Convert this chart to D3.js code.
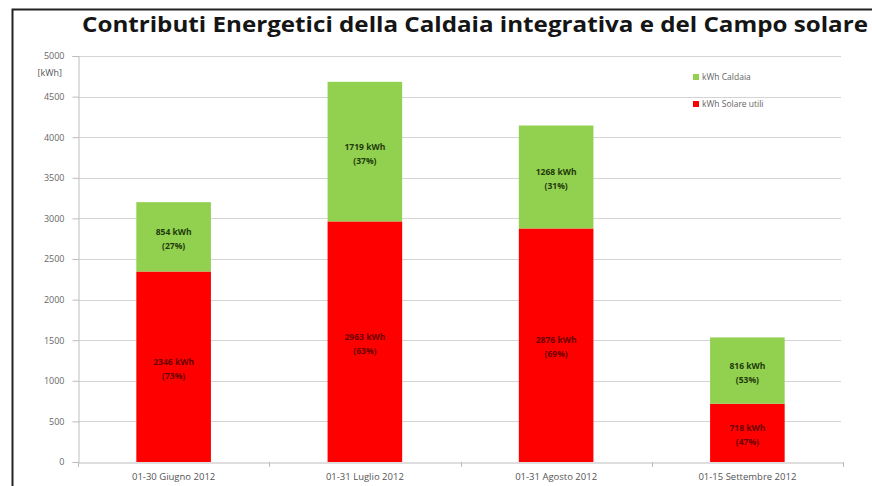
<!DOCTYPE html>
<html lang="it">
<head>
<meta charset="utf-8">
<title>Contributi Energetici</title>
<script src="https://d3js.org/d3.v7.min.js"></script>
<style>
  body { margin: 0; background: #fff; }
  text { font-family: "Open Sans", "Liberation Sans", sans-serif; }
</style>
</head>
<body>
<div id="chart"></div>
<script>
// data
var periods = ["01-30 Giugno 2012", "01-31 Luglio 2012", "01-31 Agosto 2012", "01-15 Settembre 2012"];
var solare = [2346, 2963, 2876, 718];
var caldaia = [854, 1719, 1268, 816];
var pctSolare = [73, 63, 69, 47];
var pctCaldaia = [27, 37, 31, 53];
var yTicks = [0, 500, 1000, 1500, 2000, 2500, 3000, 3500, 4000, 4500, 5000];

var W = 872, H = 486;
var svg = d3.select("#chart").append("svg").attr("width", W).attr("height", H);

// outer frame
svg.append("path")
  .attr("d", "M12.5," + H + "V9.5H" + W)
  .attr("fill", "none").attr("stroke", "#222").attr("stroke-width", 2);

svg.append("text")
  .attr("x", 82).attr("y", 32)
  .attr("font-size", 22).attr("font-weight", "bold").attr("fill", "#151515")
  .attr("textLength", 786).attr("lengthAdjust", "spacingAndGlyphs")
  .text("Contributi Energetici della Caldaia integrativa e del Campo solare");

var x = d3.scaleBand().domain(periods).range([78, 843]).paddingInner(0.61).paddingOuter(0.305);
var y = d3.scaleLinear().domain([0, 5000]).range([462, 56]);

// gridlines
svg.append("g").selectAll("line").data(yTicks.slice(1)).join("line")
  .attr("x1", 78).attr("x2", 841)
  .attr("y1", d => Math.round(y(d)) + 0.5).attr("y2", d => Math.round(y(d)) + 0.5)
  .attr("stroke", "#d4d4d4");

// y axis
var ya = svg.append("g").attr("transform", "translate(78.5,0)")
  .call(d3.axisLeft(y).tickValues(yTicks).tickFormat(d3.format("d")).tickSize(6).tickPadding(8));
ya.select(".domain").attr("stroke", "#bdbdbd");
ya.selectAll(".tick line").attr("stroke", "#bdbdbd");
ya.selectAll(".tick text").attr("font-size", 9).attr("fill", "#666")
  .attr("font-family", "'Open Sans', sans-serif");

svg.append("text").attr("x", 62).attr("y", 76).attr("text-anchor", "end")
  .attr("font-size", 9).attr("fill", "#555").text("[kWh]");

// x axis
var xa = svg.append("g").attr("transform", "translate(0," + (Math.round(y(0)) + 0.5) + ")")
  .call(d3.axisBottom(x).tickSize(0).tickPadding(11));
xa.select(".domain").attr("stroke", "#bdbdbd");
xa.selectAll(".tick text").attr("font-size", 9.5).attr("fill", "#555");
svg.append("g").selectAll("line").data(d3.range(5)).join("line")
  .attr("x1", i => Math.round(78 + i * (843 - 78) / 4) + 0.5)
  .attr("x2", i => Math.round(78 + i * (843 - 78) / 4) + 0.5)
  .attr("y1", y(0)).attr("y2", y(0) + 5)
  .attr("stroke", "#bdbdbd");

// stacked bars
var rows = periods.map(function (p, i) {
  return { p: p, s: solare[i], c: caldaia[i], ps: pctSolare[i], pc: pctCaldaia[i] };
});

var bars = svg.append("g");
bars.selectAll("rect.s").data(rows).join("rect")
  .attr("x", d => x(d.p)).attr("width", x.bandwidth())
  .attr("y", d => y(d.s)).attr("height", d => y(0) - y(d.s))
  .attr("fill", "#ff0000");
bars.selectAll("rect.c").data(rows).join("rect")
  .attr("x", d => x(d.p)).attr("width", x.bandwidth())
  .attr("y", d => y(d.s + d.c)).attr("height", d => y(d.s) - y(d.s + d.c))
  .attr("fill", "#92d050");

function label(sel, val, pct, lo, hi, col) {
  var g = sel.append("text")
    .attr("text-anchor", "middle").attr("font-size", 8.5).attr("font-weight", "bold")
    .attr("fill", col);
  g.append("tspan").attr("x", d => x(d.p) + x.bandwidth() / 2)
    .attr("y", d => (y(lo(d)) + y(hi(d))) / 2 - 2).text(d => val(d) + " kWh");
  g.append("tspan").attr("x", d => x(d.p) + x.bandwidth() / 2)
    .attr("y", d => (y(lo(d)) + y(hi(d))) / 2 + 12).text(d => "(" + pct(d) + "%)");
}
var lab = svg.append("g").selectAll("g").data(rows).join("g");
label(lab, d => d.c, d => d.pc, d => d.s, d => d.s + d.c, "#1e3a0a");
label(lab, d => d.s, d => d.ps, d => 0, d => d.s, "#6a0000");

// legend
var legend = [["kWh Caldaia", "#92d050"], ["kWh Solare utili", "#ff0000"]];
var lg = svg.append("g").selectAll("g").data(legend).join("g")
  .attr("transform", (d, i) => "translate(693," + (74 + i * 27) + ")");
lg.append("rect").attr("width", 6).attr("height", 6).attr("fill", d => d[1]);
lg.append("text").attr("x", 9).attr("y", 6).attr("font-size", 8.5).attr("fill", "#666").text(d => d[0]);
</script>
</body>
</html>
